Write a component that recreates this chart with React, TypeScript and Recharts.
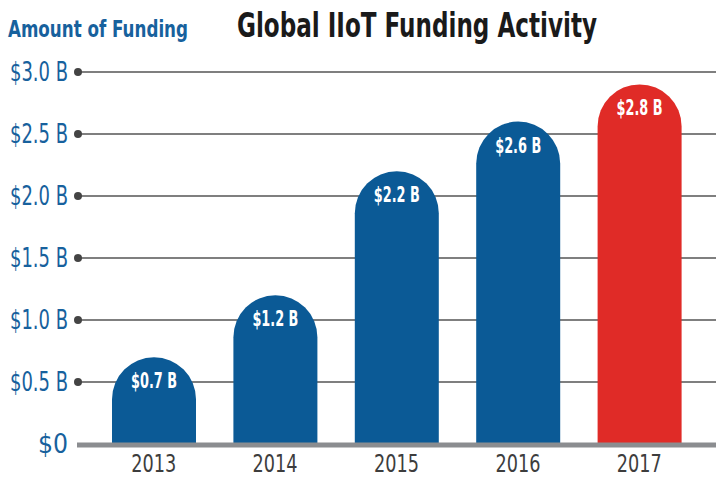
import React from 'react';
import { BarChart, Bar, XAxis, YAxis, CartesianGrid, ReferenceLine, LabelList, Cell } from 'recharts';

const years = ['2013', '2014', '2015', '2016', '2017'];
const funding = [0.7, 1.2, 2.2, 2.6, 2.9];
const fundingLabels = ['$0.7 B', '$1.2 B', '$2.2 B', '$2.6 B', '$2.8 B'];
const yTicks = [0, 0.5, 1, 1.5, 2, 2.5, 3];
const yTickLabels = ['$0', '$0.5 B', '$1.0 B', '$1.5 B', '$2.0 B', '$2.5 B', '$3.0 B'];

const BLUE = '#0b5a96';
const RED = '#e02b27';
const FONT = '"Liberation Sans Narrow", "DejaVu Sans Condensed", "Roboto Condensed", Roboto, sans-serif';

const data = years.map((year, i) => ({ year, value: funding[i], label: fundingLabels[i] }));

// bar with a semicircular top
const RoundTopBar = (props: any) => {
  const { x, y, width, height, fill } = props;
  const r = width / 2;
  const d = `M${x},${y + height} L${x},${y + r} A${r},${r} 0 0 1 ${x + width},${y + r} L${x + width},${y + height} Z`;
  return <path d={d} fill={fill} />;
};

const YTick = ({ x, y, payload }: any) => {
  const i = yTicks.indexOf(payload.value);
  const text = yTickLabels[i];
  return (
    <g>
      <text x={x - 10} y={y} dy={9} textAnchor="end" fill="#17619d" fontSize={27}
        fontFamily={FONT} textLength={text.length > 2 ? 58 : 30} lengthAdjust="spacingAndGlyphs">
        {text}
      </text>
      {payload.value !== 0 && <circle cx={x} cy={y} r={4} fill="#444" />}
    </g>
  );
};

const XTick = ({ x, y, payload }: any) => (
  <text x={x} y={y} dy={20} textAnchor="middle" fill="#3d3d3d" fontSize={25}
    fontFamily={FONT} textLength={45} lengthAdjust="spacingAndGlyphs">
    {payload.value}
  </text>
);

const BarLabel = ({ x, y, width, value }: any) => (
  <text x={x + width / 2} y={y + 31} textAnchor="middle" fill="#fff" fontSize={21} fontWeight={700}
    fontFamily={FONT} textLength={46} lengthAdjust="spacingAndGlyphs">
    {value}
  </text>
);

export default function App() {
  return (
    <div style={{ position: 'absolute', left: 0, top: 0, width: 716, height: 479, background: '#fff' }}>
      <div style={{ position: 'absolute', left: 0, top: 0 }}>
        <BarChart width={716} height={479} data={data} margin={{ top: 72, right: 16, bottom: 0, left: 0 }}>
          <CartesianGrid
            vertical={false}
            horizontal={(p: any) =>
              p.y1 > 440 ? <g key={p.key} /> : (
                <line key={p.key} x1={p.x1 - 15} x2={p.x2 + 16} y1={p.y1} y2={p.y2} stroke="#555" strokeWidth={1.5} />
              )
            }
          />
          <XAxis dataKey="year" axisLine={false} tickLine={false} tick={<XTick />} height={35} interval={0} />
          <YAxis domain={[0, 3]} ticks={yTicks} axisLine={false} tickLine={false} tick={<YTick />}
            width={93} tickMargin={9} interval={0} />
          <Bar dataKey="value" barSize={84} shape={<RoundTopBar />} isAnimationActive={false}>
            {data.map((d, i) => (
              <Cell key={d.year} fill={i === data.length - 1 ? RED : BLUE} />
            ))}
            <LabelList dataKey="label" content={<BarLabel />} />
          </Bar>
          <ReferenceLine y={0} shape={(p: any) => (
            <line x1={p.x1 - 16} x2={p.x2 + 16} y1={p.y1 + 1} y2={p.y2 + 1} stroke="#8b8d90" strokeWidth={5} />
          )} />
        </BarChart>
      </div>
      <svg width={716} height={56} style={{ position: 'absolute', left: 0, top: 0 }}>
        <text x={8} y={37} fill="#17619d" fontSize={23} fontWeight={700} fontFamily={FONT}
          textLength={180} lengthAdjust="spacingAndGlyphs">Amount of Funding</text>
        <text x={237} y={37} fill="#1a1a1a" fontSize={34} fontWeight={700} fontFamily={FONT}
          textLength={360} lengthAdjust="spacingAndGlyphs">Global IIoT Funding Activity</text>
      </svg>
    </div>
  );
}
